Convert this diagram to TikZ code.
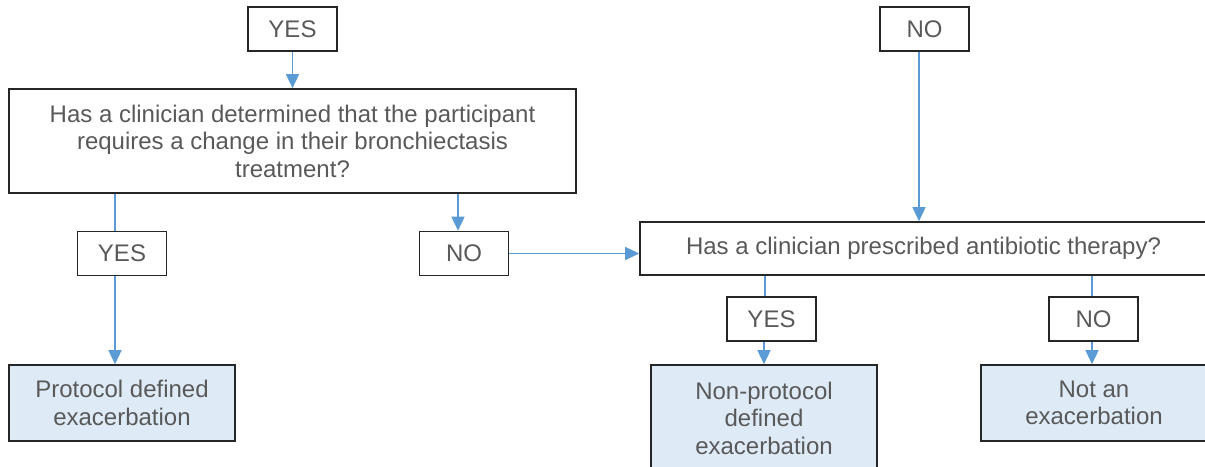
\documentclass[tikz,border=0pt]{standalone}
\usepackage{fontspec}
\setmainfont{Liberation Sans}
\usepackage{xcolor}
\usepackage{tikz}
\usetikzlibrary{arrows.meta}
\definecolor{flowblue}{HTML}{5B9BD5}
\definecolor{endfill}{HTML}{DEEBF7}
\definecolor{txtgrey}{HTML}{595959}
\definecolor{boxline}{HTML}{262626}

\tikzset{
  answer/.style = {rectangle,
                   draw = boxline,
                   line width = 1.6pt,
                   text = txtgrey,
                   font = \fontsize{24}{27.5}\selectfont,
                   minimum width = 89pt,
                   minimum height = 44pt},
  question/.style = {answer,
                     align = center,
                     inner sep = 0pt},
  outcome/.style = {question,
                    fill = endfill,
                    minimum width = 226pt},
  flow/.style = {draw = flowblue, line width = 1.4pt},
  flowarrow/.style = {flow, -{Triangle[width=13pt,length=14pt]}}
}

\begin{document}
\begin{tikzpicture}[x=1pt, y=-1pt]

    \useasboundingbox (0,0) rectangle (1205,466);

    % left branch
    \node[answer] (yes1) at (292.5,29) {YES};
    \node[question,
          minimum width = 567pt,
          minimum height = 104pt
          ] (q1) at (292.5,141) {Has a clinician determined that the participant\\
                                  requires a change in their bronchiectasis\\
                                  treatment?};
    \node[answer] (yesa) at (122,253.5) {YES};
    \node[answer] (noa) at (464,253.5) {NO};
    \node[outcome,
          minimum height = 76pt
          ] (protocol) at (122,403) {Protocol defined\\exacerbation};

    % right branch
    \node[answer] (no1) at (924.5,29) {NO};
    \node[question,
          minimum width = 567pt,
          minimum height = 53pt
          ] (q2) at (923.5,248.5) {Has a clinician prescribed antibiotic therapy?};
    \node[answer] (yesb) at (771.5,319) {YES};
    \node[answer] (nob) at (1093.5,319) {NO};
    \node[outcome,
          minimum height = 106pt
          ] (nonprotocol) at (764,418) {Non-protocol\\defined\\exacerbation};
    \node[outcome,
          minimum height = 76pt
          ] (notexac) at (1094,403) {Not an\\exacerbation};

    % plain lines
    \draw[flow] ([xshift=-7pt]yesa.north |- q1.south) -- ([xshift=-7pt]yesa.north);
    \draw[flow] ([xshift=-6.5pt]yesb.north |- q2.south) -- ([xshift=-6.5pt]yesb.north);
    \draw[flow] ([xshift=-1.5pt]nob.north |- q2.south) -- ([xshift=-1.5pt]nob.north);

    % arrows
    \draw[flowarrow] (yes1.south) -- (q1.north);
    \draw[flowarrow] ([xshift=-7pt]yesa.south) -- ([xshift=-7pt]protocol.north);
    \draw[flowarrow] ([xshift=-6pt]noa.north |- q1.south) -- ([xshift=-6pt]noa.north);
    \draw[flowarrow] (noa.east) -- (noa.east -| q2.west);
    \draw[flowarrow] ([xshift=-5.5pt]no1.south) -- ([xshift=-5.5pt]no1.south |- q2.north);
    \draw[flowarrow] ([xshift=-7.5pt]yesb.south) -- ([xshift=-7.5pt]yesb.south |- nonprotocol.north);
    \draw[flowarrow] ([xshift=-1.5pt]nob.south) -- ([xshift=-1.5pt]nob.south |- notexac.north);

\end{tikzpicture}
\end{document}
